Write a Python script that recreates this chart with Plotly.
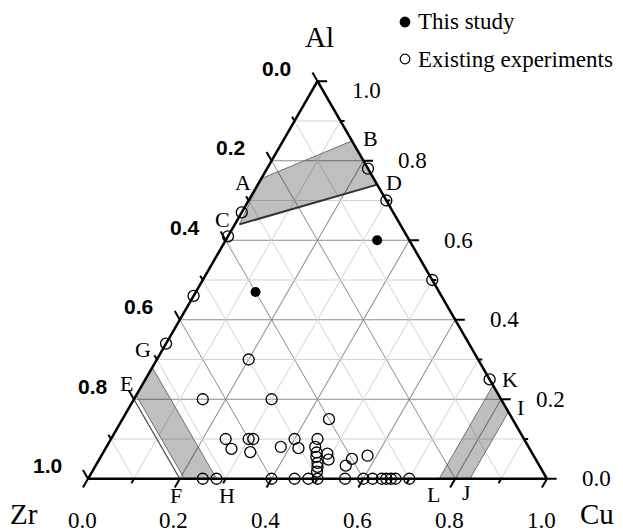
import math
import plotly.graph_objects as go

# ---------------- data (mole fractions: Al, Zr, Cu) ----------------
study_al = [0.60, 0.47]
study_zr = [0.07, 0.40]
study_cu = [0.33, 0.13]

exp_al = [0.67, 0.61, 0.46, 0.34, 0.78, 0.70, 0.50, 0.25,
          0.30, 0.20, 0.20, 0.15, 0.10, 0.075, 0.10, 0.10, 0.067, 0.08,
          0.10, 0.077, 0.10, 0.08, 0.066, 0.055, 0.04, 0.03, 0.018, 0.063,
          0.048, 0.05, 0.033, 0.058,
          0.0, 0.0, 0.0, 0.0, 0.0, 0.0, 0.0, 0.0, 0.0, 0.0, 0.0, 0.0, 0.0, 0.0]
exp_zr = [0.33, 0.39, 0.54, 0.66, 0.00, 0.00, 0.00, 0.00,
          0.50, 0.65, 0.50, 0.40, 0.65, 0.65, 0.60, 0.59, 0.613, 0.54,
          0.50, 0.503, 0.45, 0.465, 0.469, 0.475, 0.48, 0.485, 0.492, 0.447,
          0.452, 0.40, 0.422, 0.362,
          0.75, 0.72, 0.60, 0.55, 0.52, 0.50, 0.44, 0.40, 0.38, 0.36, 0.35, 0.34, 0.33, 0.30]
exp_cu = [0.00, 0.00, 0.00, 0.00, 0.22, 0.30, 0.50, 0.75,
          0.20, 0.15, 0.30, 0.45, 0.25, 0.275, 0.30, 0.31, 0.32, 0.38,
          0.40, 0.42, 0.45, 0.455, 0.465, 0.47, 0.48, 0.485, 0.49, 0.49,
          0.50, 0.55, 0.545, 0.58,
          0.25, 0.28, 0.40, 0.45, 0.48, 0.50, 0.56, 0.60, 0.62, 0.64, 0.65, 0.66, 0.67, 0.70]

# shaded composition ranges (vertices)
reg_abdc_al = [0.755, 0.85, 0.74, 0.64]
reg_abdc_zr = [0.245, 0.00, 0.00, 0.35]
reg_abdc_cu = [0.00, 0.15, 0.26, 0.01]

reg_ef_al = [0.28, 0.21, 0.00, 0.00]
reg_ef_zr = [0.72, 0.79, 0.79, 0.72]
reg_ef_cu = [0.00, 0.00, 0.21, 0.28]

reg_ij_al = [0.235, 0.168, 0.00, 0.00]
reg_ij_zr = [0.00, 0.00, 0.168, 0.235]
reg_ij_cu = [0.765, 0.832, 0.832, 0.765]

line_ef_al = [0.20, 0.00]
line_ef_zr = [0.80, 0.80]
line_ef_cu = [0.00, 0.20]

tick_vals = [0.0, 0.2, 0.4, 0.6, 0.8, 1.0]
tick_text = ["0.0", "0.2", "0.4", "0.6", "0.8", "1.0"]
minor_vals = [0.1, 0.3, 0.5, 0.7, 0.9]

letters = ["A", "B", "C", "D", "E", "F", "G", "H", "I", "J", "K", "L"]
letter_al = [0.755, 0.85, 0.64, 0.74, 0.20, 0.00, 0.34, 0.00, 0.168, 0.00, 0.25, 0.00]
letter_zr = [0.245, 0.00, 0.35, 0.00, 0.80, 0.80, 0.66, 0.72, 0.00, 0.168, 0.00, 0.235]
letter_cu = [0.00, 0.15, 0.01, 0.26, 0.00, 0.20, 0.00, 0.28, 0.832, 0.832, 0.75, 0.765]

legend_names = ["This study", "Existing experiments"]

# ---------------- geometry ----------------
OFF = 8                      # default page margin around the plot div
WIN_W, WIN_H = 623, 532
W, H = WIN_W - OFF, WIN_H - OFF
ML, MR, MT, MB = 80, 76, 73, 53
PW, PH = W - ML - MR, H - MT - MB
W_OVER_H = 2 / math.sqrt(3)
if PW > W_OVER_H * PH:
    TH = PH
    SIDE = TH * W_OVER_H
else:
    SIDE = PW
    TH = SIDE / W_OVER_H
X0 = OFF + ML + PW / 2 - SIDE / 2          # window pixel x of the Zr corner
YB = OFF + MT + PH / 2 + TH / 2            # window pixel y of the base


def tern_px(al, zr, cu):
    s = al + zr + cu
    al, cu = al / s, cu / s
    return X0 + SIDE * (cu + al / 2), YB - TH * al


def paper(px, py):
    return (px - OFF - ML) / PW, (H - MB - (py - OFF)) / PH


SERIF = "Liberation Serif, Times New Roman, serif"
SANS = "Liberation Sans, Arial, sans-serif"

fig = go.Figure()

# minor grid lines
ga, gb, gc = [], [], []
for v in minor_vals:
    ga += [v, v, None]; gb += [1 - v, 0, None]; gc += [0, 1 - v, None]
    ga += [1 - v, 0, None]; gb += [v, v, None]; gc += [0, 1 - v, None]
    ga += [1 - v, 0, None]; gb += [0, 1 - v, None]; gc += [v, v, None]
fig.add_trace(go.Scatterternary(a=ga, b=gb, c=gc, mode="lines",
                                line=dict(color="#d2d2d2", width=1),
                                hoverinfo="skip", showlegend=False))

# shaded regions
for ra, rb, rc in [(reg_abdc_al, reg_abdc_zr, reg_abdc_cu),
                   (reg_ef_al, reg_ef_zr, reg_ef_cu),
                   (reg_ij_al, reg_ij_zr, reg_ij_cu)]:
    fig.add_trace(go.Scatterternary(a=ra + ra[:1], b=rb + rb[:1], c=rc + rc[:1],
                                    mode="lines", fill="toself",
                                    fillcolor="rgba(0,0,0,0.25)",
                                    line=dict(color="#6e6e6e", width=1),
                                    hoverinfo="skip", showlegend=False))
fig.add_trace(go.Scatterternary(a=[reg_abdc_al[3], reg_abdc_al[2]],
                                b=[reg_abdc_zr[3], reg_abdc_zr[2]],
                                c=[reg_abdc_cu[3], reg_abdc_cu[2]],
                                mode="lines", line=dict(color="#333333", width=2),
                                hoverinfo="skip", showlegend=False))
fig.add_trace(go.Scatterternary(a=line_ef_al, b=line_ef_zr, c=line_ef_cu, mode="lines",
                                line=dict(color="#555555", width=1.2),
                                hoverinfo="skip", showlegend=False))

# data points
fig.add_trace(go.Scatterternary(a=exp_al, b=exp_zr, c=exp_cu, mode="markers",
                                name=legend_names[1],
                                marker=dict(symbol="circle-open", size=11, color="black",
                                            line=dict(width=1.3, color="black")),
                                cliponaxis=False, showlegend=False))
fig.add_trace(go.Scatterternary(a=study_al, b=study_zr, c=study_cu, mode="markers",
                                name=legend_names[0],
                                marker=dict(symbol="circle", size=10, color="black"),
                                cliponaxis=False, showlegend=False))

shapes = []
annotations = []


def add_text(px, py, text, size, family=SERIF, xanchor="center"):
    x, y = paper(px, py)
    annotations.append(dict(x=x, y=y, xref="paper", yref="paper", text=text,
                            showarrow=False, xanchor=xanchor, yanchor="middle",
                            font=dict(family=family, size=size, color="black")))


def add_line(p1, p2, width=2):
    x1, y1 = paper(*p1)
    x2, y2 = paper(*p2)
    shapes.append(dict(type="line", xref="paper", yref="paper", x0=x1, y0=y1,
                       x1=x2, y1=y2, line=dict(color="black", width=width)))


# tick marks extend the grid lines of the labelled component outward
for i in range(11):
    v = i / 10
    t = 0.022 if i % 2 == 0 else 0.011
    add_line(tern_px(1 - v, v, 0), tern_px(1 - v + t, v, -t))        # left: Zr
    add_line(tern_px(0, 1 - v, v), tern_px(-t, 1 - v + t, v))        # bottom: Cu
    rt = 0.021 if i % 2 == 0 else 0.009
    add_line(tern_px(v, 0, 1 - v), tern_px(v, -rt, 1 - v + rt))      # right: Al

# tick labels
for v, s in zip(tick_vals, tick_text):
    px, py = tern_px(1 - v, v, 0)
    add_text(px - 41, py - 13, "<b>%s</b>" % s, 21, SANS)
    px, py = tern_px(v, 0, 1 - v)
    add_text(px + 49, py + (9 if v == 1.0 else 0), s, 23)
    px, py = tern_px(0, 1 - v, v)
    add_text(px - 6, py + 42, s, 23)

# component titles
for (a, b, c), name, (dx, dy) in zip([(1, 0, 0), (0, 1, 0), (0, 0, 1)], ["Al", "Zr", "Cu"],
                                     [(2, -44), (-64, 35), (50, 35)]):
    px, py = tern_px(a, b, c)
    add_text(px + dx, py + dy, name, 29)

# letter labels
letter_offs = [(-18, 4), (19, -2), (-17, -5), (17, -2), (-7, -16), (-4, 17),
               (-23, 6), (10, 17), (12, -4), (-3, 14), (20, 0), (-6, 16)]
for a, b, c, s, (dx, dy) in zip(letter_al, letter_zr, letter_cu, letters, letter_offs):
    px, py = tern_px(a, b, c)
    add_text(px + dx, py + dy, s, 22)

# manual legend
for k, (name, filled) in enumerate(zip(legend_names, [True, False])):
    cy = 22 + 37 * k
    cx = 405
    x, y = paper(cx, cy)
    shapes.append(dict(type="circle", xref="paper", yref="paper", xsizemode="pixel",
                       ysizemode="pixel", xanchor=x, yanchor=y, x0=-4.8, x1=4.8,
                       y0=-4.8, y1=4.8,
                       fillcolor="black" if filled else "white",
                       line=dict(color="black", width=1.2)))
    add_text(cx + 11, cy, name, 23, xanchor="left")

axis = dict(min=0, showticklabels=False, ticks="", showgrid=True, gridcolor="#8c8c8c",
            gridwidth=1.2, tick0=0, dtick=0.2, showline=True, linecolor="black",
            linewidth=2.5, title=dict(text=""))

fig.update_layout(
    width=W, height=H,
    margin=dict(l=ML, r=MR, t=MT, b=MB, autoexpand=False),
    paper_bgcolor="white",
    ternary=dict(sum=1, bgcolor="white", aaxis=axis, baxis=axis, caxis=axis,
                 domain=dict(x=[0, 1], y=[0, 1])),
    showlegend=False,
    shapes=shapes,
    annotations=annotations,
)

fig.write_html("out.html")
